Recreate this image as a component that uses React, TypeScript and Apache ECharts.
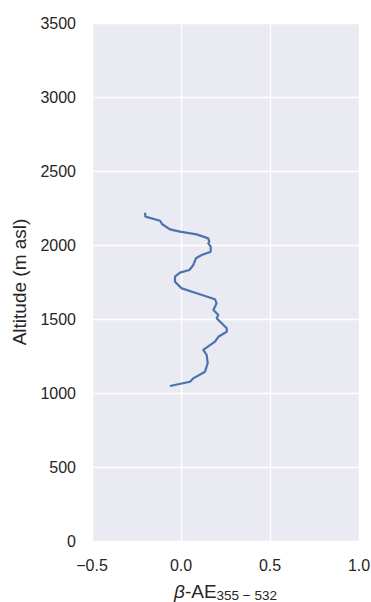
import React, { useEffect, useRef } from "react";
import * as echarts from "echarts";

// Profile of the backscatter Ångström exponent versus altitude
const altitude = [
  2218, 2192, 2164, 2140, 2106, 2090, 2072, 2045, 2022, 2011, 1989, 1955, 1932, 1910,
  1865, 1831, 1813, 1786, 1752, 1707, 1674, 1633, 1606, 1561, 1527, 1505, 1437, 1414,
  1380, 1347, 1291, 1257, 1201, 1144, 1099, 1076, 1047,
];
const betaAE = [
  -0.202, -0.2, -0.118, -0.105, -0.062, -0.006, 0.088, 0.153, 0.159, 0.153, 0.167, 0.167,
  0.116, 0.084, 0.069, 0.047, -0.006, -0.034, -0.034, 0.004, 0.088, 0.191, 0.2, 0.182,
  0.21, 0.2, 0.257, 0.257, 0.21, 0.191, 0.125, 0.144, 0.15, 0.135, 0.069, 0.051, -0.062,
];
const xTicks = { min: -0.5, max: 1.0, step: 0.5 };
const yTicks = { min: 0, max: 3500, step: 500 };

const FONT = "'Liberation Sans', Arial, sans-serif";
const TEXT = "#262626";

export default function App() {
  const ref = useRef<HTMLDivElement>(null);

  useEffect(() => {
    if (!ref.current) return;
    const chart = echarts.init(ref.current, undefined, { renderer: "svg" });
    const points = altitude.map((a, i) => [betaAE[i], a]);
    chart.setOption({
      animation: false,
      backgroundColor: "#ffffff",
      grid: {
        left: 92,
        right: 12,
        top: 23,
        bottom: 61,
        outerBoundsMode: "none",
        show: true,
        backgroundColor: "#EAEAF2",
        borderWidth: 0,
      },
      xAxis: {
        type: "value",
        min: xTicks.min,
        max: xTicks.max,
        interval: xTicks.step,
        axisLine: { show: false },
        axisTick: { show: false },
        splitLine: { show: true, lineStyle: { color: "#ffffff", width: 1.3 } },
        axisLabel: {
          color: TEXT,
          fontFamily: FONT,
          fontSize: 16,
          margin: 16,
          formatter: (v: number) => v.toFixed(1).replace("-", "\u2212"),
        },
        name: "{i|β}{t|-AE}{s|355 \u2212 532}",
        nameLocation: "middle",
        nameGap: 41,
        nameTextStyle: {
          rich: {
            i: { fontFamily: FONT, fontSize: 19, fontStyle: "italic", color: TEXT, verticalAlign: "top", lineHeight: 20 },
            t: { fontFamily: FONT, fontSize: 19, color: TEXT, verticalAlign: "top", lineHeight: 20 },
            s: { fontFamily: FONT, fontSize: 13.5, color: TEXT, verticalAlign: "top", lineHeight: 14, padding: [6, 0, 0, 0] },
          },
        },
      },
      yAxis: {
        type: "value",
        min: yTicks.min,
        max: yTicks.max,
        interval: yTicks.step,
        axisLine: { show: false },
        axisTick: { show: false },
        splitLine: { show: true, lineStyle: { color: "#ffffff", width: 1.3 } },
        axisLabel: {
          color: TEXT,
          fontFamily: FONT,
          fontSize: 16,
          margin: 16,
          formatter: (v: number) => String(v),
        },
        name: "Altitude (m asl)",
        nameLocation: "middle",
        nameGap: 63,
        nameTextStyle: { color: TEXT, fontFamily: FONT, fontSize: 19 },
      },
      series: [
        {
          type: "line",
          data: points,
          showSymbol: false,
          smooth: false,
          lineStyle: { color: "#4C72B0", width: 2.2 },
        },
      ],
    });
    return () => chart.dispose();
  }, []);

  return (
    <div
      ref={ref}
      style={{ position: "fixed", left: 0, top: 0, width: 371, height: 602 }}
    />
  );
}
